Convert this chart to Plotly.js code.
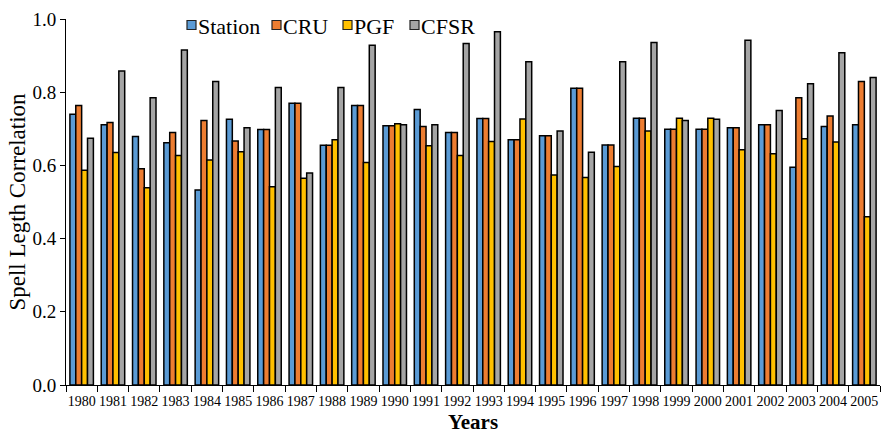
<!DOCTYPE html>
<html>
<head>
<meta charset="utf-8">
<script src="https://cdn.plot.ly/plotly-3.0.1.min.js"></script>
<style>html,body{margin:0;padding:0;background:#fff;}#chart{width:887px;height:434px;}</style>
</head>
<body>
<div id="chart"></div>
<script>
const years = ["1980","1981","1982","1983","1984","1985","1986","1987","1988","1989","1990","1991","1992","1993","1994","1995","1996","1997","1998","1999","2000","2001","2002","2003","2004","2005"];
const station = [0.740,0.711,0.679,0.662,0.533,0.726,0.698,0.770,0.655,0.764,0.708,0.753,0.690,0.728,0.670,0.681,0.811,0.656,0.729,0.699,0.699,0.703,0.711,0.595,0.706,0.711];
const cru     = [0.764,0.717,0.591,0.690,0.723,0.667,0.698,0.770,0.655,0.764,0.708,0.706,0.690,0.728,0.670,0.681,0.811,0.656,0.729,0.699,0.699,0.703,0.711,0.785,0.735,0.829];
const pgf     = [0.587,0.635,0.539,0.627,0.615,0.637,0.542,0.565,0.670,0.608,0.714,0.654,0.627,0.665,0.727,0.574,0.567,0.597,0.694,0.729,0.729,0.643,0.632,0.673,0.664,0.460];
const cfsr    = [0.674,0.858,0.785,0.915,0.829,0.703,0.813,0.579,0.813,0.928,0.711,0.711,0.933,0.965,0.883,0.694,0.636,0.883,0.936,0.723,0.726,0.942,0.750,0.823,0.908,0.840];
const seriesNames = ["Station","CRU","PGF","CFSR"];
const seriesColors = ["#5B9BD5","#ED7D31","#FFC000","#A5A5A5"];
const seriesData = [station, cru, pgf, cfsr];

const traces = seriesData.map((vals, i) => ({
  type: "bar",
  name: seriesNames[i],
  x: years,
  y: vals,
  marker: {color: seriesColors[i], line: {color: "#000", width: 1.5}}
}));

const serif = "Liberation Serif, Times New Roman, serif";
const M = {l: 66, r: 7, t: 19, b: 49}, W = 887, H = 434;
const px2x = p => (p - M.l) / (W - M.l - M.r);
const py2y = p => (H - M.b - p) / (H - M.t - M.b);

// custom legend (left pixel of each swatch)
const legendX = [187, 272, 343, 410];
const legendY = 25;
const shapes = [], annotations = [];
seriesNames.forEach((n, i) => {
  shapes.push({type: "rect", xref: "paper", yref: "paper",
    x0: px2x(legendX[i]), x1: px2x(legendX[i] + 9),
    y0: py2y(legendY + 4.5), y1: py2y(legendY - 4.5),
    fillcolor: seriesColors[i], line: {color: "#222", width: 1.2}});
  annotations.push({xref: "paper", yref: "paper", x: px2x(legendX[i] + 10), y: py2y(legendY + 1),
    xanchor: "left", yanchor: "middle", showarrow: false, text: n, borderpad: 0,
    font: {family: serif, size: 22, color: "#000"}});
});

const layout = {
  width: W, height: H,
  margin: M,
  paper_bgcolor: "#fff", plot_bgcolor: "#fff",
  barmode: "group", bargap: 0.25, bargroupgap: 0,
  font: {family: serif, color: "#000"},
  showlegend: false,
  shapes: shapes, annotations: annotations,
  xaxis: {
    type: "category", tickmode: "linear", tick0: 0, dtick: 1,
    showline: true, linecolor: "#000", linewidth: 1,
    ticks: "outside", tickson: "boundaries", ticklen: 6, tickcolor: "#000",
    tickangle: 0, ticklabelstandoff: 3, tickfont: {family: serif, size: 14, color: "#000"},
    showgrid: false, zeroline: false,
    title: {text: "<b>Years</b>", font: {family: serif, size: 21, color: "#000"}, standoff: 9}
  },
  yaxis: {
    range: [0, 1], dtick: 0.2, tickformat: ".1f",
    showline: true, linecolor: "#000", linewidth: 1,
    ticks: "outside", ticklen: 5, tickcolor: "#000",
    tickfont: {family: serif, size: 19, color: "#000"},
    showgrid: false, zeroline: false,
    title: {text: "Spell Legth Correlation", font: {family: serif, size: 23, color: "#000"}, standoff: 0}
  }
};
Plotly.newPlot("chart", traces, layout, {displayModeBar: false, staticPlot: true});
</script>
</body>
</html>
